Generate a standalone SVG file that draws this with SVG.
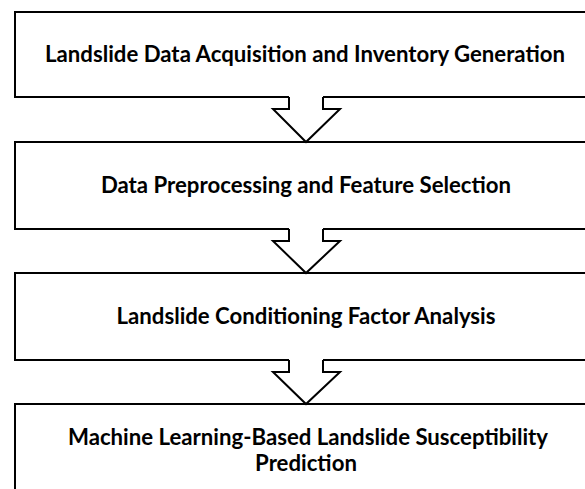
<svg xmlns="http://www.w3.org/2000/svg" width="585" height="489" viewBox="0 0 585 489">
<style>
.box{fill:#fff;stroke:#000;stroke-width:2}
.lbl{font-family:Lato,"Liberation Sans",sans-serif;font-weight:bold;font-size:22.2px;fill:#000;text-anchor:middle}
.afill{fill:#fff;stroke:none}
.aline{fill:none;stroke:#000;stroke-width:2;stroke-linejoin:miter}
</style>
<rect width="585" height="489" fill="#fff"/>
<g id="node1">
<rect class="box" x="15" y="12" width="590" height="85"/>
<text class="lbl" x="305" y="62">Landslide Data Acquisition and Inventory Generation</text>
</g>
<g id="node2">
<rect class="box" x="15" y="142" width="590" height="87"/>
<text class="lbl" x="306" y="193">Data Preprocessing and Feature Selection</text>
</g>
<g id="node3">
<rect class="box" x="15" y="273" width="590" height="87"/>
<text class="lbl" x="306" y="324">Landslide Conditioning Factor Analysis</text>
</g>
<g id="node4">
<rect class="box" x="15" y="404" width="590" height="100"/>
<text class="lbl" x="308" y="445">Machine Learning-Based Landslide Susceptibility</text>
<text class="lbl" x="306" y="471">Prediction</text>
</g>
<g id="connectors">
<path class="afill" d="M289,95 V109 H273 L306,142 L340,109 H323 V95 Z"/>
<path class="aline" d="M289,97 V109 H273 L306,142 L340,109 H323 V97"/>
<path class="afill" d="M289,227 V241 H273 L306,273 L340,241 H323 V227 Z"/>
<path class="aline" d="M289,229 V241 H273 L306,273 L340,241 H323 V229"/>
<path class="afill" d="M289,358 V372 H273 L306,404 L340,372 H323 V358 Z"/>
<path class="aline" d="M289,360 V372 H273 L306,404 L340,372 H323 V360"/>
</g>
</svg>
